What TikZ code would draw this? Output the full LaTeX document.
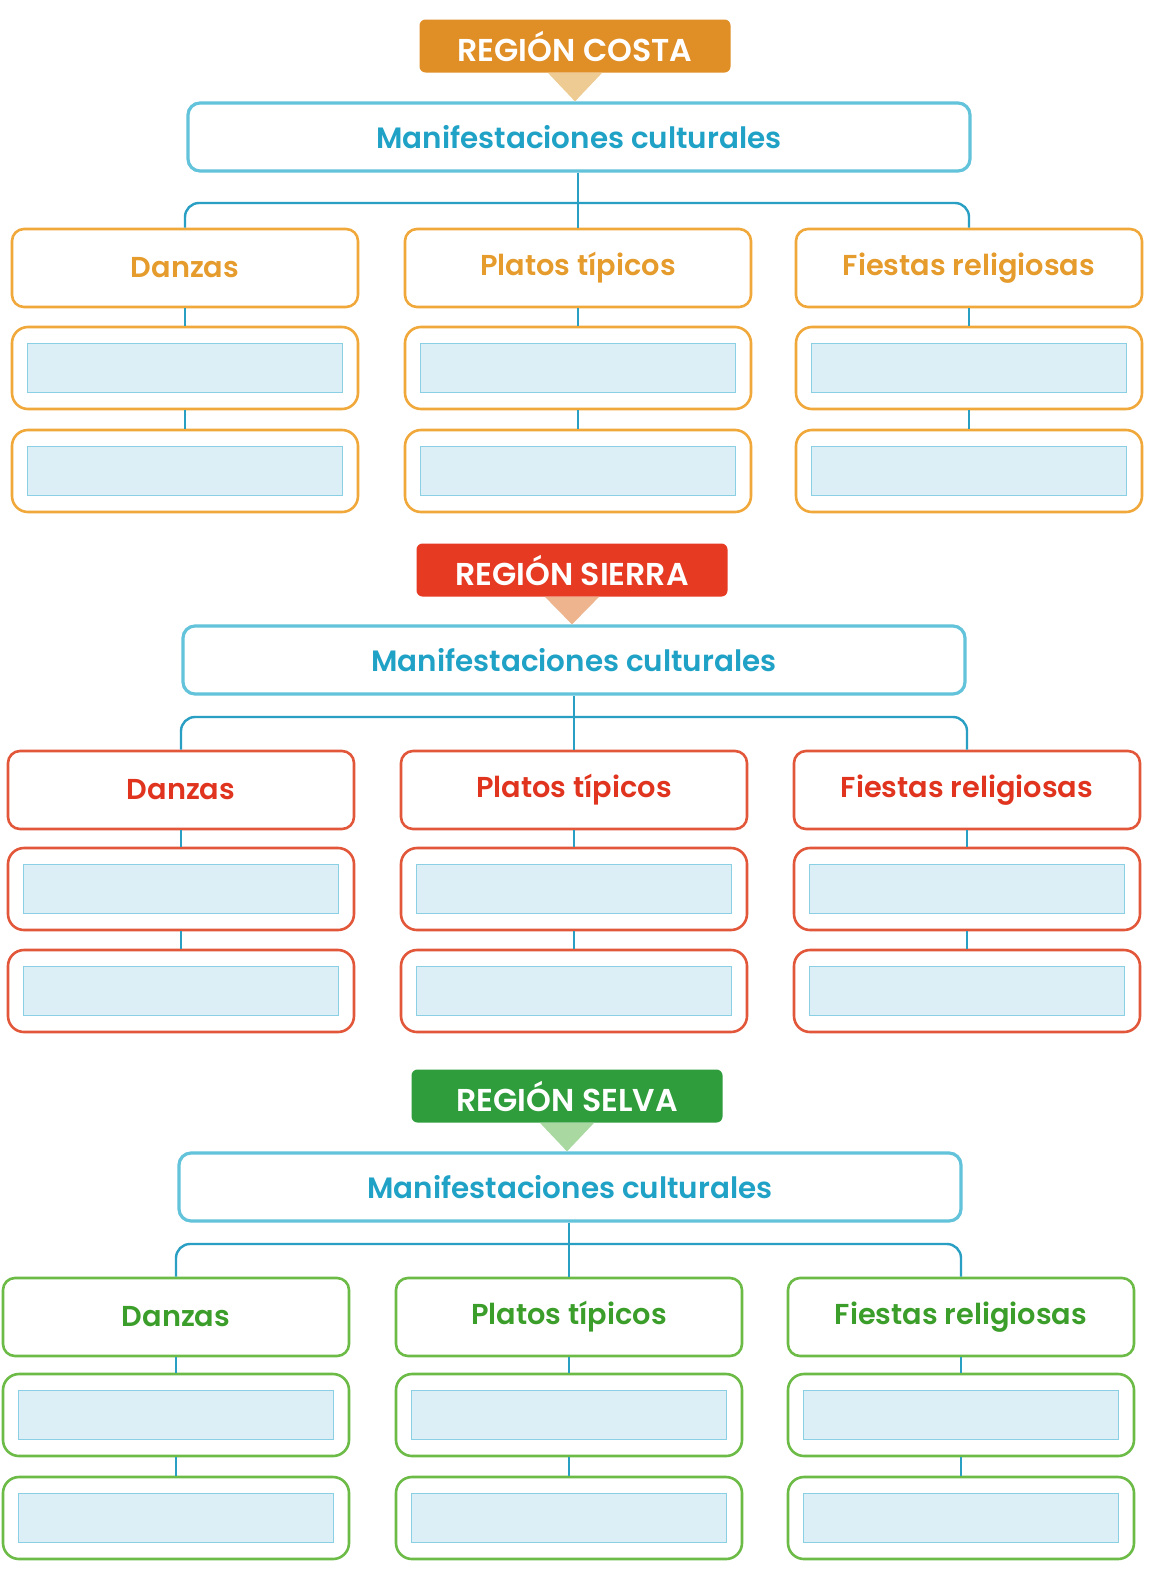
\documentclass[tikz,border=0pt]{standalone}
\usepackage{fontspec}
\setmainfont{Poppins}[BoldFont={Poppins SemiBold}]
\usetikzlibrary{positioning,calc}

\definecolor{manifline}{HTML}{62C3DA}
\definecolor{maniftext}{HTML}{1FA2C6}
\definecolor{connline}{HTML}{2A9FC4}
\definecolor{infill}{HTML}{DCEFF7}
\definecolor{inline}{HTML}{8ACFE3}
\definecolor{cohead}{HTML}{E08E26}
\definecolor{coline}{HTML}{F0A83A}
\definecolor{cotext}{HTML}{E59C2C}
\definecolor{cotri}{HTML}{EDCB92}
\definecolor{sihead}{HTML}{E63A22}
\definecolor{siline}{HTML}{E2563A}
\definecolor{sitext}{HTML}{E0341F}
\definecolor{sitri}{HTML}{EDB48E}
\definecolor{sehead}{HTML}{2F9D3C}
\definecolor{seline}{HTML}{6CBB46}
\definecolor{setext}{HTML}{3C9E2A}
\definecolor{setri}{HTML}{A9D9A1}

\tikzset{
  header/.style={rounded corners=3pt, minimum width=155.5pt, minimum height=26.5pt,
    inner sep=0pt, text=white, font=\bfseries\fontsize{15.8}{18}\selectfont},
  manif/.style={draw=manifline, line width=1.6pt, rounded corners=6pt,
    minimum width=391pt, minimum height=34pt, text=maniftext,
    font=\bfseries\fontsize{14.7}{17}\selectfont},
  cat/.style={line width=1.3pt, rounded corners=6pt, minimum width=173pt,
    minimum height=39pt, font=\bfseries\fontsize{14.4}{17}\selectfont},
  ans/.style={line width=1.3pt, rounded corners=8pt, minimum width=173pt,
    minimum height=41pt},
  inbox/.style={draw=inline, fill=infill, line width=0.5pt,
    minimum width=157.5pt, minimum height=24.5pt},
  conn/.style={draw=connline, line width=1.2pt},
}

\begin{document}
\begin{tikzpicture}[x=0.5pt, y=-0.5pt]
    \useasboundingbox[fill=white] (0,0) rectangle (1152,1579);

    % ----- Region Costa -----
    \node[header, fill=cohead] (coH) at (575,46) {REGIÓN COSTA};
    \node[manif] (coM) at (579,137) {Manifestaciones culturales};
    \fill[cotri] ($(coH.south)+(-27,0)$) -- ($(coH.south)+(27,0)$) -- (coH.south |- coM.north) -- cycle;

    \node[cat, draw=coline, text=cotext] (coD) at (185,268) {Danzas};
    \node[cat, draw=coline, text=cotext] (coP) at (578,268) {Platos típicos};
    \node[cat, draw=coline, text=cotext] (coF) at (969,268) {Fiestas religiosas};

    \node[ans, draw=coline] (coD1) at (185,368) {};
    \node[ans, draw=coline] (coD2) at (185,471) {};
    \node[ans, draw=coline] (coP1) at (578,368) {};
    \node[ans, draw=coline] (coP2) at (578,471) {};
    \node[ans, draw=coline] (coF1) at (969,368) {};
    \node[ans, draw=coline] (coF2) at (969,471) {};
    \node[inbox] (coD1i) at (coD1) {};
    \node[inbox] (coD2i) at (coD2) {};
    \node[inbox] (coP1i) at (coP1) {};
    \node[inbox] (coP2i) at (coP2) {};
    \node[inbox] (coF1i) at (coF1) {};
    \node[inbox] (coF2i) at (coF2) {};

    % connectors
    \coordinate (coBus) at (578,203);
    \draw[conn] (coP.north |- coM.south) -- (coP.north);
    \draw[conn, rounded corners=7pt] (coD.north) |- (coBus) -| (coF.north);
    \draw[conn] (coD.south) -- (coD1.north);
    \draw[conn] (coD1.south) -- (coD2.north);
    \draw[conn] (coP.south) -- (coP1.north);
    \draw[conn] (coP1.south) -- (coP2.north);
    \draw[conn] (coF.south) -- (coF1.north);
    \draw[conn] (coF1.south) -- (coF2.north);

    % ----- Region Sierra -----
    \node[header, fill=sihead] (siH) at (572,570) {REGIÓN SIERRA};
    \node[manif] (siM) at (574,660) {Manifestaciones culturales};
    \fill[sitri] ($(siH.south)+(-27,0)$) -- ($(siH.south)+(27,0)$) -- (siH.south |- siM.north) -- cycle;

    \node[cat, draw=siline, text=sitext] (siD) at (181,790) {Danzas};
    \node[cat, draw=siline, text=sitext] (siP) at (574,790) {Platos típicos};
    \node[cat, draw=siline, text=sitext] (siF) at (967,790) {Fiestas religiosas};

    \node[ans, draw=siline] (siD1) at (181,889) {};
    \node[ans, draw=siline] (siD2) at (181,991) {};
    \node[ans, draw=siline] (siP1) at (574,889) {};
    \node[ans, draw=siline] (siP2) at (574,991) {};
    \node[ans, draw=siline] (siF1) at (967,889) {};
    \node[ans, draw=siline] (siF2) at (967,991) {};
    \node[inbox] (siD1i) at (siD1) {};
    \node[inbox] (siD2i) at (siD2) {};
    \node[inbox] (siP1i) at (siP1) {};
    \node[inbox] (siP2i) at (siP2) {};
    \node[inbox] (siF1i) at (siF1) {};
    \node[inbox] (siF2i) at (siF2) {};

    % connectors
    \coordinate (siBus) at (574,717);
    \draw[conn] (siP.north |- siM.south) -- (siP.north);
    \draw[conn, rounded corners=7pt] (siD.north) |- (siBus) -| (siF.north);
    \draw[conn] (siD.south) -- (siD1.north);
    \draw[conn] (siD1.south) -- (siD2.north);
    \draw[conn] (siP.south) -- (siP1.north);
    \draw[conn] (siP1.south) -- (siP2.north);
    \draw[conn] (siF.south) -- (siF1.north);
    \draw[conn] (siF1.south) -- (siF2.north);

    % ----- Region Selva -----
    \node[header, fill=sehead] (seH) at (567,1096) {REGIÓN SELVA};
    \node[manif] (seM) at (570,1187) {Manifestaciones culturales};
    \fill[setri] ($(seH.south)+(-27,0)$) -- ($(seH.south)+(27,0)$) -- (seH.south |- seM.north) -- cycle;

    \node[cat, draw=seline, text=setext] (seD) at (176,1317) {Danzas};
    \node[cat, draw=seline, text=setext] (seP) at (569,1317) {Platos típicos};
    \node[cat, draw=seline, text=setext] (seF) at (961,1317) {Fiestas religiosas};

    \node[ans, draw=seline] (seD1) at (176,1415) {};
    \node[ans, draw=seline] (seD2) at (176,1518) {};
    \node[ans, draw=seline] (seP1) at (569,1415) {};
    \node[ans, draw=seline] (seP2) at (569,1518) {};
    \node[ans, draw=seline] (seF1) at (961,1415) {};
    \node[ans, draw=seline] (seF2) at (961,1518) {};
    \node[inbox] (seD1i) at (seD1) {};
    \node[inbox] (seD2i) at (seD2) {};
    \node[inbox] (seP1i) at (seP1) {};
    \node[inbox] (seP2i) at (seP2) {};
    \node[inbox] (seF1i) at (seF1) {};
    \node[inbox] (seF2i) at (seF2) {};

    % connectors
    \coordinate (seBus) at (569,1244);
    \draw[conn] (seP.north |- seM.south) -- (seP.north);
    \draw[conn, rounded corners=7pt] (seD.north) |- (seBus) -| (seF.north);
    \draw[conn] (seD.south) -- (seD1.north);
    \draw[conn] (seD1.south) -- (seD2.north);
    \draw[conn] (seP.south) -- (seP1.north);
    \draw[conn] (seP1.south) -- (seP2.north);
    \draw[conn] (seF.south) -- (seF1.north);
    \draw[conn] (seF1.south) -- (seF2.north);
\end{tikzpicture}
\end{document}
